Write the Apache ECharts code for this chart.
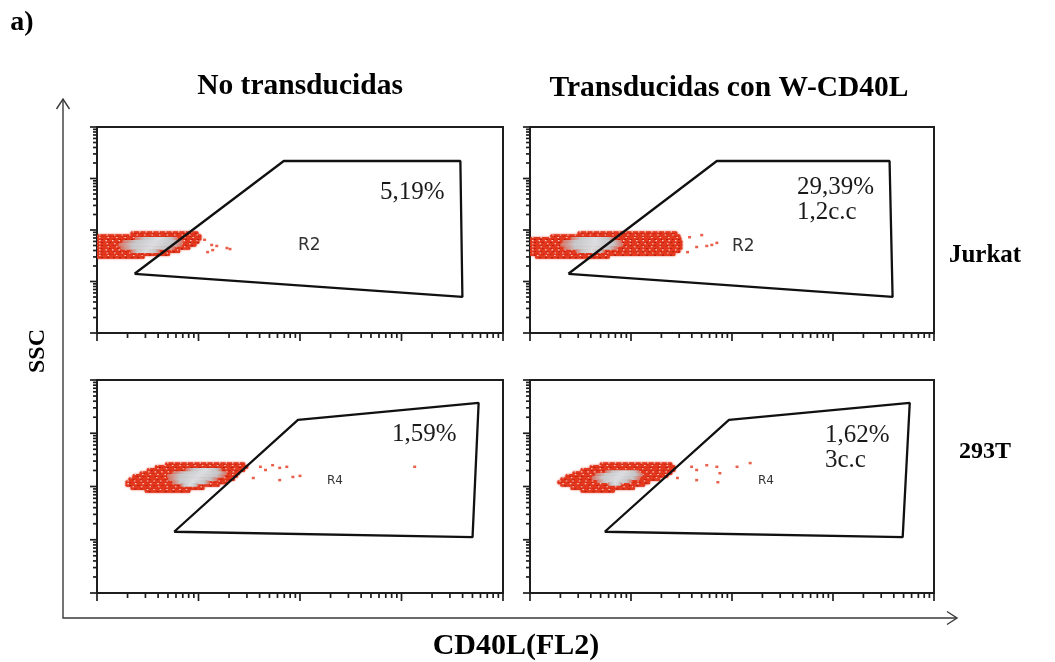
<!DOCTYPE html>
<html><head><meta charset="utf-8">
<script src="https://cdn.jsdelivr.net/npm/echarts@6/dist/echarts.min.js"></script>
<style>html,body{margin:0;padding:0;background:#fff}#c{width:1055px;height:662px}</style>
</head><body><div id="c"></div>
<script>
// Axes are in log10 decades (0..4) of fluorescence (CD40L, FL2) and SSC
const decades = [0, 1, 2, 3, 4];
const minorMultipliers = [2, 3, 4, 5, 6, 7, 8, 9];

// Gates [x, y]
const gateA = [[0.37, 1.15], [1.84, 3.34], [3.58, 3.34], [3.60, 0.70]];
const gateB = [[0.38, 1.15], [1.85, 3.34], [3.56, 3.34], [3.59, 0.70]];
const gateC = [[0.76, 1.15], [1.98, 3.25], [3.76, 3.57], [3.70, 1.05]];
const gateD = [[0.74, 1.15], [1.97, 3.25], [3.76, 3.57], [3.69, 1.05]];

// Cell clouds: rows [y, xStart, xEnd]
const cloudA = [[1.94,0.33,1.00],[1.88,0.00,1.03],[1.83,0.00,1.03],[1.77,0.00,1.01],[1.71,0.00,0.98],[1.65,0.00,0.92],[1.59,0.00,0.82],[1.53,0.00,0.72],[1.48,0.00,0.47]];
const coreA = [[1.83,0.37,0.80],[1.77,0.25,0.85],[1.71,0.21,0.84],[1.65,0.23,0.77],[1.59,0.33,0.62]];
const outA = [[1.13,1.71],[1.18,1.69],[1.28,1.65],[1.31,1.63],[1.14,1.61],[1.06,1.81],[1.09,1.57]];

const cloudB = [[1.94,0.47,1.46],[1.88,0.20,1.49],[1.83,0.00,1.50],[1.77,0.00,1.51],[1.71,0.00,1.51],[1.65,0.00,1.51],[1.59,0.00,1.49],[1.53,0.00,1.44],[1.48,0.05,0.79]];
const coreB = [[1.83,0.40,0.84],[1.77,0.32,0.91],[1.71,0.30,0.92],[1.65,0.33,0.87],[1.59,0.45,0.74]];
const outB = [[1.58,1.86],[1.70,1.90],[1.65,1.67],[1.75,1.69],[1.80,1.71],[1.85,1.75],[1.56,1.57]];

const cloudC = [[2.42,0.67,1.46],[2.37,0.57,1.49],[2.31,0.49,1.46],[2.25,0.42,1.41],[2.20,0.35,1.39],[2.14,0.31,1.36],[2.08,0.28,1.29],[2.03,0.28,1.21],[1.97,0.33,1.06],[1.92,0.47,0.92]];
const coreC = [[2.31,0.87,1.23],[2.25,0.74,1.28],[2.20,0.69,1.26],[2.14,0.70,1.19],[2.08,0.74,1.11],[2.03,0.82,1.00]];
const outC = [[1.61,2.37],[1.73,2.40],[1.80,2.35],[1.87,2.37],[1.93,2.18],[2.00,2.20],[1.54,2.16],[1.80,2.12],[1.66,2.31],[3.13,2.37]];

const cloudD = [[2.42,0.69,1.41],[2.37,0.59,1.44],[2.31,0.50,1.44],[2.25,0.42,1.41],[2.20,0.35,1.37],[2.14,0.30,1.29],[2.08,0.27,1.19],[2.03,0.30,1.14],[1.97,0.40,1.04],[1.92,0.50,0.84]];
const coreD = [[2.27,0.74,1.09],[2.22,0.64,1.12],[2.16,0.61,1.09],[2.10,0.66,1.01],[2.05,0.77,0.91]];
const outD = [[1.60,2.37],[1.65,2.31],[1.75,2.40],[1.85,2.37],[1.88,2.25],[1.65,2.12],[1.86,2.08],[2.05,2.37],[2.18,2.44],[1.46,2.16]];

const colTitles = ['No transducidas', 'Transducidas con W-CD40L'];
const rowTitles = ['Jurkat', '293T'];
const percents = ['5,19%', '29,39%', '1,59%', '1,62%'];
const copies = ['', '1,2c.c', '', '3c.c'];
const regions = ['R2', 'R2', 'R4', 'R4'];

const panels = [
  {grid: {left: 97, top: 127, width: 406, height: 206}, gate: gateA, cloud: cloudA, core: coreA, out: outA},
  {grid: {left: 530, top: 127, width: 404, height: 206}, gate: gateB, cloud: cloudB, core: coreB, out: outB},
  {grid: {left: 97, top: 380, width: 406, height: 213}, gate: gateC, cloud: cloudC, core: coreC, out: outC},
  {grid: {left: 530, top: 380, width: 404, height: 213}, gate: gateD, cloud: cloudD, core: coreD, out: outD}
];

// tick values (major + log minor)
const tickData = [];
decades.forEach(d => {
  tickData.push([d, 1]);
  if (d < 4) minorMultipliers.forEach(k => tickData.push([d + Math.log10(k), 0]));
});

const grids = [], xAxes = [], yAxes = [], series = [];
const red = '#e3391f';
panels.forEach((p, i) => {
  grids.push(Object.assign({show: true, borderColor: '#1e1e1e', borderWidth: 2, backgroundColor: '#fff'}, p.grid));
  const ax = {type: 'value', min: 0, max: 4, gridIndex: i, axisLine: {show: false}, axisTick: {show: false}, axisLabel: {show: false}, splitLine: {show: false}};
  xAxes.push(Object.assign({}, ax));
  yAxes.push(Object.assign({}, ax));
  const rowH = (api) => api.size([0, 0.06])[1] + 0.6;
  series.push({
    type: 'custom', xAxisIndex: i, yAxisIndex: i, z: 2, clip: true, silent: true,
    data: p.cloud,
    renderItem: (params, api) => {
      const a = api.coord([api.value(1), api.value(0)]);
      const b = api.coord([api.value(2), api.value(0)]);
      const h = rowH(api);
      const y0 = a[1] - h / 2;
      return {type: 'group', children: [
        {type: 'rect', shape: {x: a[0], y: y0, width: b[0] - a[0], height: h, r: 1.5},
          style: {fill: red, shadowBlur: 2, shadowColor: 'rgba(220,40,20,0.8)'}},
        {type: 'line', shape: {x1: a[0] + 2, y1: y0 + 0.6, x2: b[0] - 2, y2: y0 + 0.6},
          style: {stroke: 'rgba(255,255,255,0.75)', lineWidth: 1.1, lineDash: [1.5, 5 + (params.dataIndex % 3)]}},
        {type: 'line', shape: {x1: a[0] + 4, y1: y0 + h - 1, x2: b[0] - 1, y2: y0 + h - 1},
          style: {stroke: 'rgba(170,20,10,0.8)', lineWidth: 1.2, lineDash: [2, 4 + (params.dataIndex % 2) * 2]}}
      ]};
    }
  });
  series.push({
    type: 'custom', xAxisIndex: i, yAxisIndex: i, z: 3, clip: true, silent: true,
    data: p.core,
    renderItem: (params, api) => {
      const a = api.coord([api.value(1), api.value(0)]);
      const b = api.coord([api.value(2), api.value(0)]);
      const h = rowH(api);
      return {type: 'rect', shape: {x: a[0], y: a[1] - h / 2, width: b[0] - a[0], height: h, r: 1.5},
        style: {fill: {type: 'linear', x: 0, y: 0, x2: 1, y2: 0, colorStops: [
          {offset: 0, color: 'rgba(215,120,105,0.9)'}, {offset: 0.22, color: '#c7c7c9'},
          {offset: 0.55, color: '#dcdde0'}, {offset: 0.85, color: '#c4c4c6'}, {offset: 1, color: 'rgba(215,120,105,0.9)'}]}}};
    }
  });
  series.push({
    type: 'scatter', xAxisIndex: i, yAxisIndex: i, z: 2, symbol: 'rect', symbolSize: [3, 2.5],
    itemStyle: {color: red}, data: p.out, silent: true
  });
  series.push({
    type: 'line', xAxisIndex: i, yAxisIndex: i, z: 4, symbol: 'none', silent: true,
    lineStyle: {color: '#111', width: 2.3}, data: p.gate.concat([p.gate[0]])
  });
  series.push({
    type: 'custom', xAxisIndex: i, yAxisIndex: i, z: 5, clip: false, silent: true,
    data: tickData,
    renderItem: (params, api) => {
      const v = api.value(0), major = api.value(1) === 1;
      const px = api.coord([v, 0]);
      const py = api.coord([0, v]);
      const lx = major ? 8 : 5, ly = major ? 7 : 4;
      return {type: 'group', children: [
        {type: 'line', shape: {x1: px[0], y1: px[1], x2: px[0], y2: px[1] + lx}, style: {stroke: '#1e1e1e', lineWidth: 1.7}},
        {type: 'line', shape: {x1: py[0], y1: py[1], x2: py[0] - ly, y2: py[1]}, style: {stroke: '#1e1e1e', lineWidth: 1.7}}
      ]};
    }
  });
});

const serif = 'Liberation Serif';
const txt = (text, x, y, size, opts) => Object.assign({
  type: 'text', x: x, y: y, z: 10,
  style: Object.assign({text: text, fontFamily: serif, fontSize: size, fill: '#000', textAlign: 'center', textVerticalAlign: 'middle'}, (opts || {}).style || {})
}, (opts || {}).el || {});

const graphic = [
  txt('a)', 22, 23, 28, {style: {fontWeight: 'bold'}}),
  txt(colTitles[0], 300, 86, 29.5, {style: {fontWeight: 'bold'}}),
  txt(colTitles[1], 729, 88, 29.5, {style: {fontWeight: 'bold'}}),
  txt(rowTitles[0], 985, 256, 25, {style: {fontWeight: 'bold'}}),
  txt(rowTitles[1], 985, 452, 24, {style: {fontWeight: 'bold'}}),
  txt('CD40L(FL2)', 516, 646, 30, {style: {fontWeight: 'bold'}}),
  {type: 'text', x: 38, y: 351, rotation: Math.PI / 2, z: 10,
    style: {text: 'SSC', fontFamily: serif, fontSize: 24, fontWeight: 'bold', fill: '#000', textAlign: 'center', textVerticalAlign: 'middle'}},
  // outer axes with arrows
  {type: 'polyline', z: 10, shape: {points: [[63, 99], [63, 618], [957, 618]]}, style: {stroke: '#3a3a3a', lineWidth: 1.4, fill: null}},
  {type: 'polyline', z: 10, shape: {points: [[56.5, 109], [63, 99], [69.5, 109]]}, style: {stroke: '#3a3a3a', lineWidth: 1.4, fill: null}},
  {type: 'polyline', z: 10, shape: {points: [[947, 611.5], [957, 618], [947, 624.5]]}, style: {stroke: '#3a3a3a', lineWidth: 1.4, fill: null}},
  // annotations
  txt(percents[0], 380, 192, 25, {style: {textAlign: 'left', fill: '#1a1a1a'}}),
  txt(percents[1], 797, 187, 25, {style: {textAlign: 'left', fill: '#1a1a1a'}}),
  txt(copies[1], 797, 212, 25, {style: {textAlign: 'left', fill: '#1a1a1a'}}),
  txt(percents[2], 392, 434, 25, {style: {textAlign: 'left', fill: '#1a1a1a'}}),
  txt(percents[3], 825, 435, 25, {style: {textAlign: 'left', fill: '#1a1a1a'}}),
  txt(copies[3], 825, 460, 25, {style: {textAlign: 'left', fill: '#1a1a1a'}}),
  txt(regions[0], 298, 246, 17, {style: {textAlign: 'left', fill: '#333', fontFamily: 'DejaVu Sans'}}),
  txt(regions[1], 732, 247, 17, {style: {textAlign: 'left', fill: '#333', fontFamily: 'DejaVu Sans'}}),
  txt(regions[2], 327, 481, 12, {style: {textAlign: 'left', fill: '#333', fontFamily: 'DejaVu Sans'}}),
  txt(regions[3], 758, 481, 12, {style: {textAlign: 'left', fill: '#333', fontFamily: 'DejaVu Sans'}})
];

const chart = echarts.init(document.getElementById('c'), null, {renderer: 'canvas'});
chart.setOption({
  backgroundColor: '#fff',
  animation: false,
  grid: grids, xAxis: xAxes, yAxis: yAxes, series: series, graphic: graphic
});
</script></body></html>
